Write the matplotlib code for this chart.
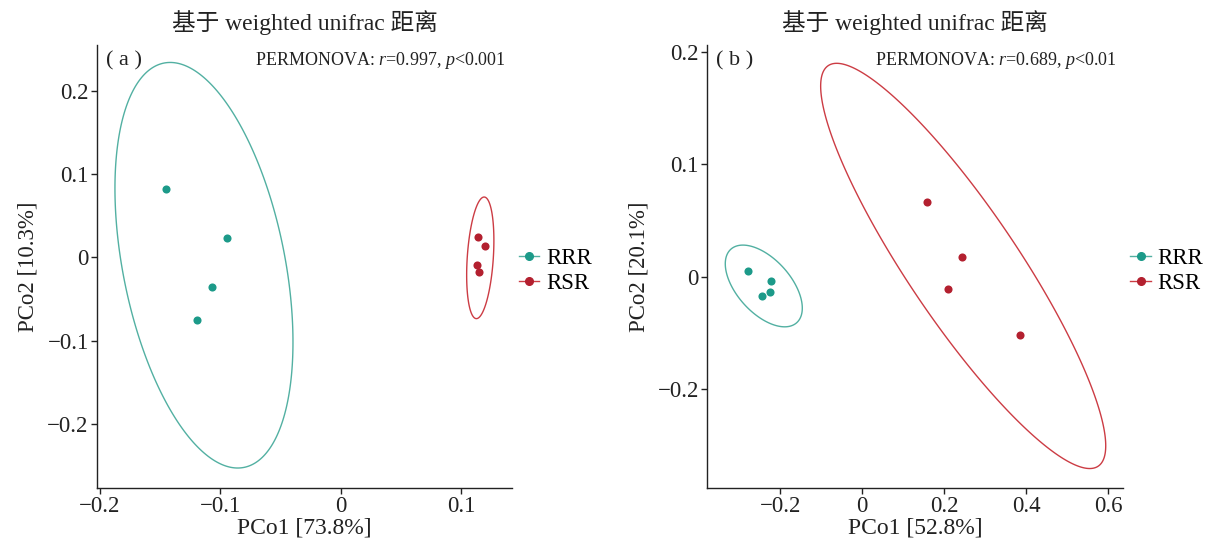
import numpy as np
import matplotlib
matplotlib.use("Agg")
import matplotlib.pyplot as plt
from matplotlib.lines import Line2D
from matplotlib.patches import Polygon

plt.rcParams['font.family'] = ['Liberation Serif', 'Noto Sans CJK SC']
plt.rcParams['mathtext.fontset'] = 'custom'
plt.rcParams['mathtext.rm'] = 'Liberation Serif'
plt.rcParams['mathtext.it'] = 'Liberation Serif:italic'

groups = ['RRR', 'RSR']
point_colors = ['#1c9a89', '#b3202f']
ellipse_colors = ['#52b0a2', '#cc3c44']

title = '基于 weighted unifrac 距离'

# panel (a)
a_x = {'RRR': [-0.145, -0.0946, -0.107, -0.1195],
       'RSR': [0.1137, 0.120, 0.113, 0.1145]}
a_y = {'RRR': [0.0816, 0.0228, -0.036, -0.0756],
       'RSR': [0.024, 0.0132, -0.0096, -0.018]}
# ellipse: centre x, centre y, half-width x, half-height y, correlation
a_ell = {'RRR': (-0.1137, -0.0095, 0.0739, 0.2435, -0.379),
         'RSR': (0.1157, -0.0006, 0.0113, 0.073, 0.284)}
a_xticks = [-0.2, -0.1, 0, 0.1]
a_xlabels = ['−0.2', '−0.1', '0', '0.1']
a_yticks = [0.2, 0.1, 0, -0.1, -0.2]
a_ylabels = ['0.2', '0.1', '0', '−0.1', '−0.2']
a_stat = 'PERMONOVA: $r$=0.997, $p$<0.001'

# panel (b)
b_x = {'RRR': [-0.2788, -0.2227, -0.2454, -0.2244],
       'RSR': [0.157, 0.2439, 0.2098, 0.385]}
b_y = {'RRR': [0.0053, -0.0041, -0.0169, -0.0136],
       'RSR': [0.0667, 0.0175, -0.0112, -0.052]}
b_ell = {'RRR': (-0.2402, -0.0081, 0.0939, 0.0363, -0.542),
         'RSR': (0.2461, 0.0097, 0.3476, 0.18, -0.8875)}
b_xticks = [-0.2, 0, 0.2, 0.4, 0.6]
b_xlabels = ['−0.2', '0', '0.2', '0.4', '0.6']
b_yticks = [0.2, 0.1, 0, -0.1]
b_ylabels = ['0.2', '0.1', '0', '−0.2']  # as printed in the original
b_stat = 'PERMONOVA: $r$=0.689, $p$<0.01'


def ellipse_path(cx, cy, hx, hy, rho, n=300):
    t = np.linspace(0, 2 * np.pi, n, endpoint=False)
    x = cx + hx * np.cos(t)
    y = cy + hy * (rho * np.cos(t) + np.sqrt(1 - rho ** 2) * np.sin(t))
    return np.column_stack([x, y])


def draw_panel(ax, xs, ys, ells, xticks, xlabels, yticks, ylabels,
               xlim, ylim, tag, stat, xlab, ylab):
    for g, pc, ec in zip(groups, point_colors, ellipse_colors):
        ax.add_patch(Polygon(ellipse_path(*ells[g]), closed=True, fill=False,
                             edgecolor=ec, lw=1.0))
        ax.scatter(xs[g], ys[g], s=34, color=pc, zorder=3, linewidths=0)
    ax.set_xlim(xlim)
    ax.set_ylim(ylim)
    ax.set_xticks(xticks)
    ax.set_xticklabels(xlabels)
    ax.set_yticks(yticks)
    ax.set_yticklabels(ylabels)
    for s in ['top', 'right']:
        ax.spines[s].set_visible(False)
    for s in ['left', 'bottom']:
        ax.spines[s].set_linewidth(1.0)
        ax.spines[s].set_color('#222222')
    ax.tick_params(direction='out', length=4, width=1.0, labelsize=16.5,
                   colors='#222222', pad=2)
    ax.set_xlabel(xlab, fontsize=17, color='#222222', labelpad=0)
    ax.set_ylabel(ylab, fontsize=16.5, color='#222222', labelpad=6)
    ax.set_title(title, fontsize=17, color='#222222', pad=11)
    ax.text(0.022, 0.965, '( ' + tag + ' )', transform=ax.transAxes,
            fontsize=16, ha='left', va='center', color='#222222')
    ax.text(0.985, 0.965, stat, transform=ax.transAxes, fontsize=13,
            ha='right', va='center', color='#222222')
    handles = [Line2D([0], [0], color=ec, lw=1.0, marker='o', markersize=5.5,
                      markerfacecolor=pc, markeredgecolor=pc)
               for pc, ec in zip(point_colors, ellipse_colors)]
    ax.legend(handles, groups, loc='center left', bbox_to_anchor=(1.0, 0.49),
              frameon=False, fontsize=16.5, handlelength=0.9,
              handletextpad=0.3, labelspacing=0.2, borderaxespad=0.0,
              borderpad=0.3)


fig = plt.figure(figsize=(12.08, 5.49), dpi=100)
ax1 = fig.add_axes([0.0803, 0.1111, 0.3435, 0.807])
ax2 = fig.add_axes([0.5855, 0.1111, 0.3444, 0.807])

draw_panel(ax1, a_x, a_y, a_ell, a_xticks, a_xlabels, a_yticks, a_ylabels,
           (-0.2025, 0.142), (-0.277, 0.255), 'a', a_stat,
           'PCo1 [73.8%]', 'PCo2 [10.3%]')
draw_panel(ax2, b_x, b_y, b_ell, b_xticks, b_xlabels, b_yticks, b_ylabels,
           (-0.378, 0.6366), (-0.1876, 0.206), 'b', b_stat,
           'PCo1 [52.8%]', 'PCo2 [20.1%]')

fig.savefig('out.png', dpi=100)
